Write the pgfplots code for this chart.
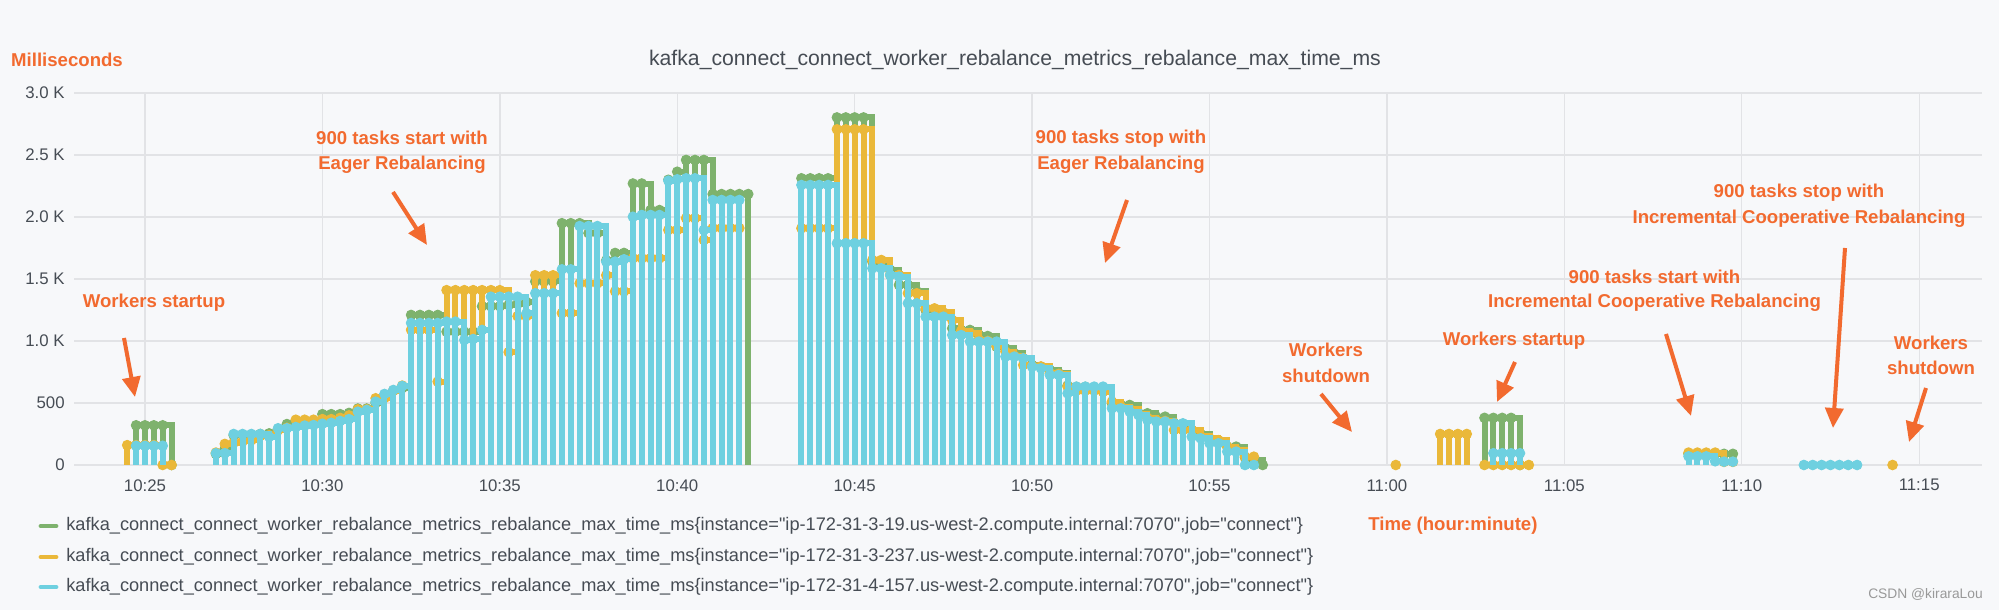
\documentclass[border=0pt]{standalone}
\usepackage{pgfplots}
\usepackage{pgfplotstable}
\pgfplotsset{compat=1.18}
\usepackage{fontspec}
\setmainfont{Liberation Sans}
\usetikzlibrary{arrows.meta}

\definecolor{gGreen}{HTML}{7EB26D}
\definecolor{gYellow}{HTML}{EAB839}
\definecolor{gCyan}{HTML}{6ED0E0}
\definecolor{annot}{HTML}{F26A2F}
\definecolor{bgc}{HTML}{F7F8FA}
\definecolor{gridc}{HTML}{E2E3E6}
\definecolor{txt}{HTML}{464C54}

% time in minutes after 10:00, value in ms
\pgfplotstableread{
t v
24.75 320
25.0 320
25.25 320
25.5 320
25.75 0
nan nan
27.0 90
27.25 130
27.5 240
27.75 245
28.0 245
28.25 250
28.5 255
28.75 290
29.0 330
29.25 330
29.5 330
29.75 335
30.0 410
30.25 410
30.5 410
30.75 420
31.0 455
31.25 455
31.5 500
31.75 560
32.0 600
32.25 620
32.5 1210
32.75 1210
33.0 1210
33.25 1210
33.5 1075
33.75 1075
34.0 1075
34.25 1075
34.5 1280
34.75 1280
35.0 1280
35.25 1290
35.5 1300
35.75 1315
36.0 1480
36.25 1480
36.5 1480
36.75 1950
37.0 1950
37.25 1950
37.5 1870
37.75 1870
38.0 1650
38.25 1710
38.5 1710
38.75 2270
39.0 2270
39.25 2056
39.5 2056
39.75 2300
40.0 2365
40.25 2460
40.5 2460
40.75 2460
41.0 2185
41.25 2185
41.5 2185
41.75 2185
42.0 2185
nan nan
43.5 2312
43.75 2312
44.0 2312
44.25 2312
44.5 2803
44.75 2803
45.0 2803
45.25 2803
45.5 1640
45.75 1640
46.0 1573
46.25 1452
46.5 1452
46.75 1400
47.0 1250
47.25 1250
47.5 1210
47.75 1102
48.0 1089
48.25 1089
48.5 1050
48.75 1040
49.0 954
49.25 941
49.5 900
49.75 860
50.0 806
50.25 790
50.5 766
50.75 740
51.0 640
51.25 630
51.5 630
51.75 625
52.0 620
52.25 497
52.5 484
52.75 484
53.0 417
53.25 417
53.5 390
53.75 390
54.0 340
54.25 330
54.5 282
54.75 250
55.0 210
55.25 190
55.5 148
55.75 148
56.0 60
56.25 40
56.5 0
nan nan
62.75 380
63.0 380
63.25 380
63.5 380
63.75 0
nan nan
68.5 90
68.75 90
69.0 90
69.25 90
69.5 90
69.75 90
}\greenA

\pgfplotstableread{
t v
24.5 160
24.75 160
25.0 160
25.25 160
25.5 0
25.75 0
nan nan
27.0 100
27.25 170
27.5 180
27.75 190
28.0 200
28.25 235
28.5 240
28.75 280
29.0 300
29.25 365
29.5 365
29.75 365
30.0 370
30.25 370
30.5 380
30.75 400
31.0 449
31.25 449
31.5 538
31.75 540
32.0 600
32.25 640
32.5 1090
32.75 1090
33.0 1090
33.25 672
33.5 1410
33.75 1410
34.0 1410
34.25 1410
34.5 1410
34.75 1410
35.0 1410
35.25 910
35.5 1200
35.75 1200
36.0 1530
36.25 1530
36.5 1530
36.75 1225
37.0 1225
37.25 1465
37.5 1465
37.75 1465
38.0 1530
38.25 1400
38.5 1400
38.75 1667
39.0 1667
39.25 1667
39.5 1667
39.75 1895
40.0 1895
40.25 1990
40.5 1990
40.75 1815
41.0 1910
41.25 1910
41.5 1910
41.75 1910
nan nan
43.5 1909
43.75 1909
44.0 1909
44.25 1909
44.5 2707
44.75 2707
45.0 2707
45.25 2707
45.5 1653
45.75 1653
46.0 1532
46.25 1532
46.5 1385
46.75 1385
47.0 1263
47.25 1263
47.5 1230
47.75 1169
48.0 1080
48.25 1062
48.5 1010
48.75 1000
49.0 960
49.25 914
49.5 880
49.75 806
50.0 800
50.25 795
50.5 740
50.75 735
51.0 632
51.25 600
51.5 600
51.75 600
52.0 590
52.25 511
52.5 470
52.75 450
53.0 410
53.25 380
53.5 360
53.75 355
54.0 282
54.25 282
54.5 282
54.75 230
55.0 215
55.25 200
55.5 148
55.75 120
56.0 67
56.25 67
nan nan
60.25 0
nan nan
61.5 250
61.75 250
62.0 250
62.25 250
nan nan
62.75 0
63.0 0
63.25 0
63.5 0
63.75 0
64.0 0
nan nan
68.5 100
68.75 100
69.0 100
69.25 100
69.5 25
69.75 25
nan nan
74.25 0
}\yellowB

\pgfplotstableread{
t v
24.75 155
25.0 155
25.25 155
25.5 155
nan nan
27.0 95
27.25 95
27.5 250
27.75 250
28.0 250
28.25 250
28.5 228
28.75 296
29.0 296
29.25 306
29.5 318
29.75 322
30.0 333
30.25 340
30.5 355
30.75 370
31.0 430
31.25 444
31.5 511
31.75 573
32.0 605
32.25 637
32.5 1145
32.75 1145
33.0 1145
33.25 1145
33.5 1156
33.75 1156
34.0 1008
34.25 1016
34.5 1089
34.75 1357
35.0 1357
35.25 1357
35.5 1357
35.75 1223
36.0 1385
36.25 1385
36.5 1385
36.75 1578
37.0 1578
37.25 1927
37.5 1927
37.75 1927
38.0 1640
38.25 1640
38.5 1659
38.75 2002
39.0 2016
39.25 2016
39.5 2016
39.75 2293
40.0 2304
40.25 2312
40.5 2312
40.75 1895
41.0 2137
41.25 2137
41.5 2137
41.75 2137
nan nan
43.5 2258
43.75 2258
44.0 2258
44.25 2258
44.5 1788
44.75 1788
45.0 1788
45.25 1788
45.5 1586
45.75 1586
46.0 1532
46.25 1519
46.5 1304
46.75 1304
47.0 1196
47.25 1196
47.5 1196
47.75 1048
48.0 1048
48.25 995
48.5 995
48.75 995
49.0 995
49.25 874
49.5 874
49.75 860
50.0 793
50.25 780
50.5 726
50.75 726
51.0 578
51.25 632
51.5 632
51.75 632
52.0 632
52.25 457
52.5 457
52.75 430
53.0 403
53.25 363
53.5 350
53.75 350
54.0 336
54.25 336
54.5 228
54.75 215
55.0 175
55.25 175
55.5 108
55.75 108
56.0 0
56.25 0
nan nan
63.0 95
63.25 95
63.5 95
63.75 95
nan nan
68.5 70
68.75 70
69.0 70
69.25 30
69.5 27
69.75 27
nan nan
71.75 0
72.0 0
72.25 0
72.5 0
72.75 0
73.0 0
73.25 0
}\cyanC

\pgfplotsset{
  comb/.style={ycomb, color=#1, line width=3pt, line cap=butt, mark=*, mark size=2.4pt,
    mark options={solid, line width=0.5pt, fill=#1, draw=#1}, forget plot},
  stair/.style={const plot, color=#1, line width=3pt, line cap=butt, no marks, forget plot},
}

\newcommand{\ann}{\fontsize{9.3}{11}\selectfont\bfseries}
\newcommand{\legf}{\fontsize{9.1}{11}\selectfont}
\newcommand{\q}{\textquotedbl}

\begin{document}
\begin{tikzpicture}
\fill[bgc] (0,0) rectangle (999.5pt,305pt);
\useasboundingbox (0,0) rectangle (999.5pt,305pt);
\begin{axis}[
  at={(37pt,72.5pt)}, anchor=south west,
  scale only axis, width=954pt, height=186pt,
  xmin=23, xmax=76.77, ymin=0, ymax=3000,
  enlargelimits=false, clip=false, clip marker paths=true,
  unbounded coords=jump,
  axis line style={draw=none},
  major tick length=0pt,
  grid=major, grid style={gridc, line width=0.7pt},
  xtick={25,30,35,40,45,50,55,60,65,70,75},
  xticklabels={10:25,10:30,10:35,10:40,10:45,10:50,10:55,11:00,11:05,11:10,11:15},
  ytick={0,500,1000,1500,2000,2500,3000},
  yticklabels={0,500,1.0 K,1.5 K,2.0 K,2.5 K,3.0 K},
  xticklabel style={font=\fontsize{8.4}{10}\selectfont, text=txt, inner sep=0pt, yshift=-7pt},
  yticklabel style={font=\fontsize{8.4}{10}\selectfont, text=txt, inner sep=0pt, xshift=-4.5pt},
]
\addplot[stair=gGreen] table[x=t,y=v] {\greenA};
\addplot[comb=gGreen] table[x=t,y=v] {\greenA};
\addplot[stair=gYellow] table[x=t,y=v] {\yellowB};
\addplot[comb=gYellow] table[x=t,y=v] {\yellowB};
\addplot[stair=gCyan] table[x=t,y=v] {\cyanC};
\addplot[comb=gCyan] table[x=t,y=v] {\cyanC};
\end{axis}

% title and axis names
\node[font=\fontsize{10.6}{12}\selectfont, text=txt] at (507.5pt,275pt) {kafka\_connect\_connect\_worker\_rebalance\_metrics\_rebalance\_max\_time\_ms};
\node[font=\ann, text=annot] at (33.5pt,275pt) {Milliseconds};
\node[font=\ann, text=annot, anchor=west, inner sep=0pt] at (684pt,42pt) {Time (hour:minute)};

% legend
\foreach \c/\yy/\ip in {gGreen/42/3-19, gYellow/26.5/3-237, gCyan/11.5/4-157}{
  \draw[\c, line width=2.4pt, line cap=round] (20.5pt,\yy pt) -- (28pt,\yy pt);
  \node[font=\legf, text=txt, anchor=west, inner sep=0pt] at (33pt,\yy pt)
   {kafka\_connect\_connect\_worker\_rebalance\_metrics\_rebalance\_max\_time\_ms\{instance=\q ip-172-31-\ip.us-west-2.compute.internal:7070\q,job=\q connect\q\}};
}

% watermark
\node[font=\fontsize{6.9}{8}\selectfont, text=black!40] at (962.75pt,8pt) {CSDN @kiraraLou};

% annotations
\tikzset{arr/.style={annot, line width=2pt, -{Triangle[length=10pt,width=9pt]}}}
\begin{scope}[every node/.style={font=\ann, text=annot, inner sep=0pt}]
\node at (77pt,153.5pt) {Workers startup};
\draw[arr] (62pt,136pt) -- (67.5pt,106.5pt);

\node at (201pt,236pt) {900 tasks start with};
\node at (201pt,222.5pt) {Eager Rebalancing};
\draw[arr] (196.5pt,209pt) -- (213.5pt,182.5pt);

\node at (560.5pt,235.5pt) {900 tasks stop with};
\node at (560.5pt,222.5pt) {Eager Rebalancing};
\draw[arr] (563.5pt,205pt) -- (552.5pt,173.5pt);

\node at (663pt,130pt) {Workers};
\node at (663pt,117pt) {shutdown};
\draw[arr] (660.5pt,108pt) -- (676pt,89pt);

\node at (757pt,134.5pt) {Workers startup};
\draw[arr] (757.5pt,124pt) -- (748.5pt,104pt);

\node at (827.25pt,166.5pt) {900 tasks start with};
\node at (827.25pt,153.5pt) {Incremental Cooperative Rebalancing};
\draw[arr] (833pt,138pt) -- (845.5pt,97pt);

\node at (899.5pt,208.5pt) {900 tasks stop with};
\node at (899.5pt,195.5pt) {Incremental Cooperative Rebalancing};
\draw[arr] (922.5pt,181pt) -- (916.5pt,91pt);

\node at (965.5pt,133.5pt) {Workers};
\node at (965.5pt,121pt) {shutdown};
\draw[arr] (963pt,111pt) -- (954.5pt,84pt);
\end{scope}
\end{tikzpicture}
\end{document}
